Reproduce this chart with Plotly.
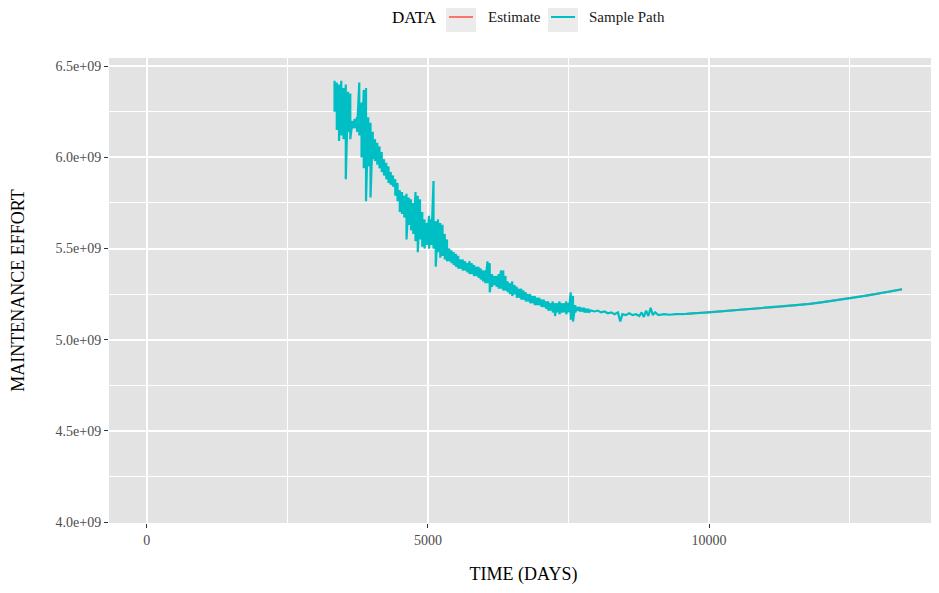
import plotly.graph_objects as go

# noisy stretch of the sample path: for every date, the high and low it swings between
# (days, effort in billions)
env_days = [
    3340, 3380, 3420, 3460, 3500, 3540, 3580, 3620, 3660, 3700, 3740, 3780, 3820, 3860,
    3900, 3940, 3980, 4020, 4060, 4100, 4140, 4180, 4220, 4260, 4300, 4340, 4380, 4420,
    4460, 4500, 4540, 4580, 4620, 4660, 4700, 4740, 4780, 4820, 4860, 4900, 4940, 4980,
    5020, 5060, 5100, 5140, 5180, 5220, 5260, 5300, 5340, 5380, 5420, 5460, 5500, 5540,
    5580, 5620, 5660, 5700, 5740, 5780, 5820, 5860, 5900, 5940, 5980, 6020, 6060, 6100,
    6140, 6180, 6220, 6260, 6300, 6340, 6380, 6420, 6460, 6500, 6540, 6580, 6620, 6660,
    6700, 6740, 6780, 6820, 6860, 6900, 6940, 6980, 7020, 7060, 7100, 7140, 7180, 7220,
    7260, 7300, 7340, 7380, 7420, 7460, 7500, 7540, 7580, 7620, 7660, 7700, 7740, 7780,
    7820, 7860,
]
env_high = [
    6.42, 6.41, 6.40, 6.42, 6.38, 6.40, 6.36, 6.35, 6.20, 6.21, 6.22, 6.41, 6.30, 6.37,
    6.38, 6.22, 6.19, 6.14, 6.10, 6.08, 6.06, 6.03, 5.99, 5.97, 5.95, 5.92, 5.90, 5.88,
    5.86, 5.82, 5.81, 5.79, 5.80, 5.78, 5.77, 5.75, 5.81, 5.79, 5.77, 5.70, 5.66, 5.64,
    5.68, 5.66, 5.87, 5.65, 5.66, 5.64, 5.63, 5.58, 5.55, 5.50, 5.49, 5.48, 5.47, 5.46,
    5.44, 5.44, 5.43, 5.42, 5.43, 5.42, 5.41, 5.40, 5.40, 5.39, 5.38, 5.38, 5.43, 5.42,
    5.36, 5.35, 5.35, 5.36, 5.38, 5.38, 5.35, 5.32, 5.31, 5.32, 5.30, 5.29, 5.28, 5.28,
    5.27, 5.26, 5.25, 5.25, 5.24, 5.24, 5.23, 5.23, 5.22, 5.22, 5.21, 5.21, 5.20, 5.21,
    5.20, 5.20, 5.21, 5.20, 5.20, 5.21, 5.20, 5.26, 5.24, 5.19, 5.18, 5.18, 5.175, 5.175,
    5.17, 5.17,
]
env_low = [
    6.25, 6.15, 6.09, 6.12, 6.10, 5.88, 6.14, 6.10, 6.16, 6.16, 6.14, 6.12, 6.00, 5.94,
    5.76, 5.95, 5.78, 5.99, 5.98, 5.96, 5.94, 5.92, 5.90, 5.88, 5.86, 5.85, 5.84, 5.79,
    5.76, 5.70, 5.69, 5.67, 5.55, 5.63, 5.60, 5.58, 5.54, 5.48, 5.55, 5.51, 5.50, 5.52,
    5.50, 5.52, 5.50, 5.40, 5.48, 5.45, 5.46, 5.44, 5.43, 5.43, 5.42, 5.41, 5.40, 5.39,
    5.39, 5.38, 5.38, 5.37, 5.36, 5.36, 5.35, 5.35, 5.34, 5.33, 5.32, 5.31, 5.31, 5.26,
    5.29, 5.30, 5.29, 5.28, 5.28, 5.27, 5.27, 5.26, 5.25, 5.24, 5.25, 5.23, 5.23, 5.22,
    5.22, 5.21, 5.21, 5.20, 5.20, 5.19, 5.19, 5.19, 5.18, 5.18, 5.17, 5.16, 5.16, 5.15,
    5.13, 5.15, 5.14, 5.15, 5.15, 5.14, 5.15, 5.11, 5.10, 5.15, 5.16, 5.155, 5.155, 5.15,
    5.15, 5.15,
]

# calmer tail of the sample path
tail_days = [
    7900, 7960, 8020, 8080, 8140, 8200, 8260, 8320, 8380, 8420, 8460, 8520, 8580, 8640,
    8700, 8760, 8800, 8840, 8880, 8920, 8960, 9000, 9040, 9100, 9200, 9300, 9400, 9500,
    9600, 9700, 9800, 9900, 10000, 10200, 10400, 10600, 10800, 11000, 11200, 11400, 11600,
    11800, 12000, 12200, 12400, 12600, 12800, 13000, 13200, 13430,
]
tail_bn = [
    5.16, 5.155, 5.16, 5.15, 5.155, 5.145, 5.15, 5.14, 5.15, 5.10, 5.14, 5.135, 5.145, 5.135,
    5.14, 5.13, 5.15, 5.125, 5.16, 5.13, 5.175, 5.135, 5.15, 5.135, 5.14, 5.137, 5.14, 5.14,
    5.142, 5.145, 5.145, 5.148, 5.150, 5.155, 5.160, 5.165, 5.170, 5.175, 5.180, 5.185, 5.190,
    5.197, 5.205, 5.213, 5.222, 5.232, 5.242, 5.252, 5.263, 5.277,
]

# the estimate sits under the sample path (only the legend shows it)
estimate_days = [9500, 10000, 10400, 10800, 11200, 11600, 12000, 12400, 12800, 13200, 13430]
estimate_bn = [5.14, 5.150, 5.160, 5.170, 5.180, 5.190, 5.205, 5.222, 5.242, 5.263, 5.277]

y_ticks = [4.0e9, 4.5e9, 5.0e9, 5.5e9, 6.0e9, 6.5e9]
y_labels = ["4.0e+09", "4.5e+09", "5.0e+09", "5.5e+09", "6.0e+09", "6.5e+09"]
x_ticks = [0, 5000, 10000]
x_labels = ["0", "5000", "10000"]

series_names = ["Estimate", "Sample Path"]
series_colors = ["#F8766D", "#00BFC4"]

# swing high -> low at each date, then carry on with the tail
path_x, path_y = [], []
for d, hi, lo in zip(env_days, env_high, env_low):
    path_x += [d, d]
    path_y += [hi * 1e9, lo * 1e9]
path_x += tail_days
path_y += [v * 1e9 for v in tail_bn]

serif = "Liberation Serif, Times New Roman, serif"

# the page body adds an 8px offset, so the figure is sized/margined to compensate
OFF = 8
W, H = 939 - OFF, 593 - 2 * OFF
L, T, R, B = 109 - OFF, 58 - OFF, 1, 62
PW, PH = W - R - L, H - B - T

def px(x):
    # screen pixel -> paper x
    return (x - OFF - L) / PW

def py(y):
    # screen pixel -> paper y
    return (H - B - (y - OFF)) / PH

# ggplot-style legend on top: grey key boxes with a short line in each
shapes, notes = [], []
notes.append(dict(text="DATA", x=px(390), y=py(17), xanchor="left", yanchor="middle",
                  font=dict(size=17, color="black")))
for key_left, text_left, name, col in zip([446, 548], [486, 587], series_names, series_colors):
    shapes.append(dict(type="rect", xref="paper", yref="paper",
                       x0=px(key_left), x1=px(key_left + 30), y0=py(32), y1=py(2),
                       fillcolor="#EBEBEB", line=dict(width=0), layer="below"))
    shapes.append(dict(type="line", xref="paper", yref="paper",
                       x0=px(key_left + 3), x1=px(key_left + 27), y0=py(17), y1=py(17),
                       line=dict(color=col, width=2)))
    notes.append(dict(text=name, x=px(text_left), y=py(17), xanchor="left", yanchor="middle",
                      font=dict(size=15, color="#1A1A1A")))
for n in notes:
    n.update(xref="paper", yref="paper", showarrow=False)

fig = go.Figure()
fig.add_trace(go.Scatter(
    x=estimate_days, y=[v * 1e9 for v in estimate_bn], mode="lines",
    name=series_names[0], line=dict(color=series_colors[0], width=2),
))
fig.add_trace(go.Scatter(
    x=path_x, y=path_y, mode="lines",
    name=series_names[1], line=dict(color=series_colors[1], width=2.2),
))

fig.update_layout(
    width=W, height=H,
    margin=dict(l=L, r=R, t=T, b=B),
    paper_bgcolor="white",
    plot_bgcolor="#E3E3E3",
    font=dict(family=serif, size=14, color="#4D4D4D"),
    showlegend=False,
    shapes=shapes,
    annotations=notes,
)
fig.update_xaxes(
    range=[-670, 14070], tickmode="array", tickvals=x_ticks, ticktext=x_labels,
    ticks="outside", ticklen=4, tickcolor="#333333", tickwidth=1.2, automargin=False,
    showgrid=True, gridcolor="white", gridwidth=1.8, zeroline=False, showline=False,
    minor=dict(tick0=2500, dtick=5000, showgrid=True, gridcolor="white", gridwidth=0.9, ticks=""),
    title=dict(text="TIME (DAYS)", font=dict(size=18, color="black"), standoff=20),
)
fig.update_yaxes(
    range=[3.995e9, 6.545e9], tickmode="array", tickvals=y_ticks, ticktext=y_labels,
    ticks="outside", ticklen=4, tickcolor="#333333", tickwidth=1.2, automargin=False,
    showgrid=True, gridcolor="white", gridwidth=1.8, zeroline=False, showline=False,
    minor=dict(tick0=4.25e9, dtick=0.5e9, showgrid=True, gridcolor="white", gridwidth=0.9, ticks=""),
    title=dict(text="MAINTENANCE EFFORT", font=dict(size=18, color="black"), standoff=26),
)

fig.write_html("out.html")
